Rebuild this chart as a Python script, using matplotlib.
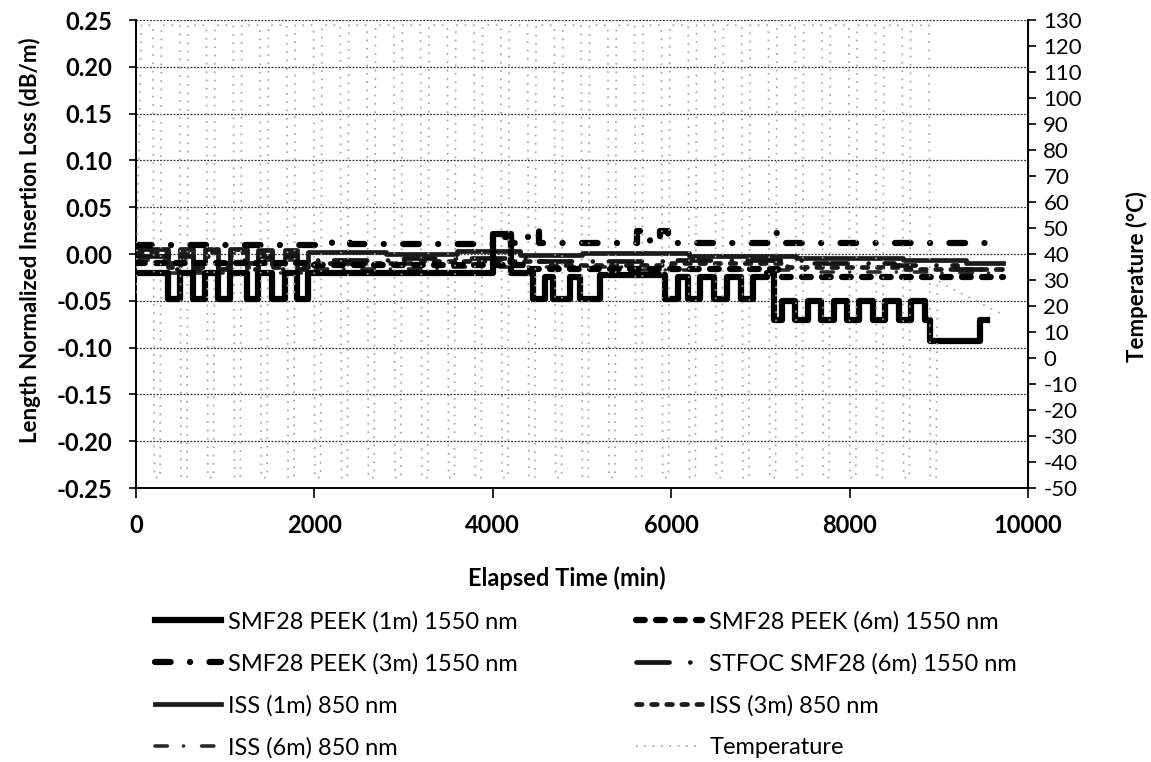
import matplotlib
matplotlib.use('Agg')
import matplotlib.pyplot as plt
from matplotlib.lines import Line2D

# loss data, step breakpoints (min, dB/m)
peek1m_t = [0, 360, 495, 640, 775, 920, 1055, 1240, 1370, 1530, 1665, 1800, 1930,
            4000, 4200, 4450, 4585, 4675, 4865, 4980, 5200,
            5930, 6075, 6190, 6325, 6480, 6625, 6780, 6920, 7075,
            7150, 7240, 7390, 7530, 7680, 7820, 7970, 8110, 8260, 8400, 8550, 8690, 8840,
            8900, 9460, 9540]
peek1m_v = [-0.02, -0.048, -0.02, -0.048, -0.02, -0.048, -0.02, -0.048, -0.02, -0.048, -0.02, -0.048, -0.02,
            0.021, -0.02, -0.048, -0.025, -0.048, -0.025, -0.048, -0.022,
            -0.048, -0.025, -0.048, -0.025, -0.048, -0.025, -0.048, -0.025, -0.02,
            -0.07, -0.05, -0.07, -0.05, -0.07, -0.05, -0.07, -0.05, -0.07, -0.05, -0.07, -0.05, -0.07,
            -0.093, -0.07, -0.07]

peek3m_t = [0, 2200, 2400, 4050, 4200, 4400, 4520, 5620, 5760, 5870, 5960, 7180, 7230, 9720]
peek3m_v = [0.010, 0.013, 0.011, 0.018, 0.012, 0.026, 0.012, 0.025, 0.012, 0.025, 0.012, 0.022, 0.012, 0.012]

peek6m_t = [0, 2000, 4400, 7200, 9720]
peek6m_v = [-0.010, -0.012, -0.016, -0.025, -0.025]

stfoc_t = [0, 360, 495, 640, 775, 920, 1055, 1240, 1370, 1530, 1665, 1800, 1930,
           3000, 4500, 6000, 7500, 8500, 9200, 9720]
stfoc_v = [-0.002, -0.016, -0.002, -0.016, -0.002, -0.016, -0.002, -0.016, -0.002, -0.016, -0.002, -0.016, -0.006,
           -0.004, -0.008, -0.006, -0.010, -0.012, -0.016, -0.016]

iss1m_t = [0, 360, 495, 640, 775, 920, 1055, 1240, 1370, 1530, 1665, 1800, 1930,
           2800, 3600, 4300, 5000, 6200, 7400, 8600, 9300, 9720]
iss1m_v = [0.005, -0.010, 0.005, -0.010, 0.005, -0.010, 0.005, -0.010, 0.004, -0.010, 0.004, -0.010, 0.002,
           0.000, 0.003, -0.001, 0.001, -0.002, -0.004, -0.006, -0.010, -0.010]

iss3m_t = [0, 360, 495, 640, 775, 920, 1055, 1240, 1370, 1530, 1665, 1800, 1930,
           3200, 4600, 6000, 7300, 8600, 9720]
iss3m_v = [0.002, -0.014, 0.002, -0.014, 0.002, -0.014, 0.002, -0.014, 0.002, -0.014, 0.002, -0.014, -0.010,
           -0.008, -0.012, -0.010, -0.014, -0.016, -0.016]

iss6m_t = [0, 360, 495, 640, 775, 920, 1055, 1240, 1370, 1530, 1665, 1800, 1930,
           3500, 5500, 7500, 9000, 9720]
iss6m_v = [-0.006, -0.020, -0.006, -0.020, -0.006, -0.020, -0.006, -0.020, -0.006, -0.020, -0.006, -0.020, -0.016,
           -0.014, -0.017, -0.019, -0.020, -0.022]

# temperature cycling: start of each cold excursion (min)
cycle_start = [190, 490, 790, 1090, 1390, 1690, 1990, 2290, 2590, 2890,
               3190, 3490, 3790, 4090, 4390, 4690, 4990, 5290, 5590, 5890,
               6190, 6490, 6790, 7090, 7390, 7690, 7990, 8290, 8590, 8890]
temp_hot = 128
temp_cold = -46
tail_t = [8985, 9070, 9700]
tail_v = [30, 28, 17]

temp_t = [0, 60]
temp_v = [25, temp_hot]
for c in cycle_start[:-1]:
    temp_t += [c, c + 15, c + 80, c + 95]
    temp_v += [temp_hot, temp_cold, temp_cold, temp_hot]
c = cycle_start[-1]
temp_t += [c, c + 15, c + 80] + tail_t
temp_v += [temp_hot, temp_cold, temp_cold] + tail_v

plt.rcParams['font.family'] = ['Lato', 'DejaVu Sans']
plt.rcParams['axes.unicode_minus'] = False

fig = plt.figure(figsize=(11.51, 7.62), dpi=100)
W, H = 1151, 762
ax = fig.add_axes([136 / W, 1 - 488 / H, (1028 - 136) / W, (488 - 20) / H])
ax2 = ax.twinx()

styles = {
    'SMF28 PEEK (1m) 1550 nm': dict(color='black', lw=4.5, ls='-'),
    'SMF28 PEEK (6m) 1550 nm': dict(color='black', lw=4.5, ls=(0, (1.4, 1.8)), dash_capstyle='round'),
    'SMF28 PEEK (3m) 1550 nm': dict(color='black', lw=4.5, ls=(0, (2.5, 3.1, 0.01, 3.1)), dash_capstyle='round'),
    'STFOC SMF28 (6m) 1550 nm': dict(color='#151515', lw=3.4, ls=(0, (7, 4.4, 0.01, 3.4)), dash_capstyle='round'),
    'ISS (1m) 850 nm': dict(color='#1c1c1c', lw=3.4, ls='-'),
    'ISS (3m) 850 nm': dict(color='#1c1c1c', lw=3.4, ls=(0, (1.2, 2.0)), dash_capstyle='round'),
    'ISS (6m) 850 nm': dict(color='#2a2a2a', lw=2.6, ls=(0, (3.4, 4.5, 0.01, 5)), dash_capstyle='round'),
    'Temperature': dict(color='#a0a0a0', lw=1.2, ls=(0, (1, 4))),
}

series = [
    ('ISS (6m) 850 nm', iss6m_t, iss6m_v),
    ('ISS (3m) 850 nm', iss3m_t, iss3m_v),
    ('ISS (1m) 850 nm', iss1m_t, iss1m_v),
    ('STFOC SMF28 (6m) 1550 nm', stfoc_t, stfoc_v),
    ('SMF28 PEEK (6m) 1550 nm', peek6m_t, peek6m_v),
    ('SMF28 PEEK (3m) 1550 nm', peek3m_t, peek3m_v),
    ('SMF28 PEEK (1m) 1550 nm', peek1m_t, peek1m_v),
]
for name, t, v in series:
    ax.plot(t, v, drawstyle='steps-post', **styles[name])

ax2.plot(temp_t, temp_v, **styles['Temperature'])

ax.set_xlim(0, 10000)
ax.set_ylim(-0.25, 0.25)
ax2.set_ylim(-50, 130)

ax.set_yticks([-0.25 + 0.05 * i for i in range(11)])
ax.set_yticklabels(['%.2f' % (-0.25 + 0.05 * i) for i in range(11)], fontsize=17, fontweight='bold')
ax.set_xticks([0, 2000, 4000, 6000, 8000, 10000])
ax.set_xticklabels(['0', '2000', '4000', '6000', '8000', '10000'], fontsize=17, fontweight='bold')
ax2.set_yticks(list(range(-50, 131, 10)))
ax2.set_yticklabels([str(v) for v in range(-50, 131, 10)], fontsize=16)

ax.yaxis.grid(True, color='#333333', ls=(0, (1.5, 1.2)), lw=0.9)
ax.set_axisbelow(True)
ax.tick_params(axis='y', direction='out', length=5, width=1.2, pad=12)
ax.tick_params(axis='x', direction='out', length=7, width=1.2, pad=12)
ax2.tick_params(axis='y', direction='out', length=6, width=1.2, pad=5)
ax.spines['top'].set_visible(False)
ax2.spines['top'].set_visible(False)
for s in ['left', 'bottom']:
    ax.spines[s].set_linewidth(1.4)
ax2.spines['right'].set_linewidth(1.4)
ax2.spines['left'].set_visible(False)
ax2.spines['bottom'].set_visible(False)

fig.text(567 / W, 1 - 578 / H, 'Elapsed Time (min)', ha='center', va='center',
         fontsize=17, fontweight='bold')
fig.text(30 / W, 1 - 240 / H, 'Length Normalized Insertion Loss (dB/m)', ha='center', va='center',
         rotation=90, fontsize=16, fontweight='bold')
fig.text(1137 / W, 1 - 277 / H, 'Temperature (°C)', ha='center', va='center',
         rotation=90, fontsize=16, fontweight='bold')

order = ['SMF28 PEEK (1m) 1550 nm', 'SMF28 PEEK (3m) 1550 nm', 'ISS (1m) 850 nm', 'ISS (6m) 850 nm',
         'SMF28 PEEK (6m) 1550 nm', 'STFOC SMF28 (6m) 1550 nm', 'ISS (3m) 850 nm', 'Temperature']
handles = [Line2D([], [], **styles[n]) for n in order]
fig.legend(handles, order, loc='upper left', bbox_to_anchor=(155 / W, 1 - 611 / H), ncol=2,
           frameon=False, fontsize=17, handlelength=2.8, handletextpad=0.3, columnspacing=5.0,
           labelspacing=0.87, borderpad=0, borderaxespad=0)

fig.savefig('out.png', dpi=100)
